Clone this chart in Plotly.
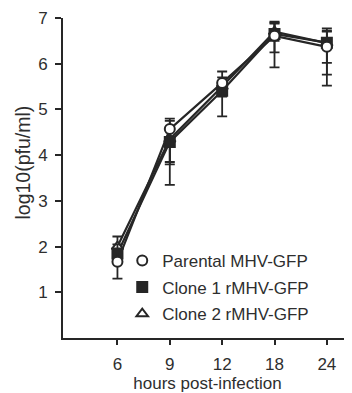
import plotly.graph_objects as go

hours = ["6", "9", "12", "18", "24"]
xpos = [0, 1, 2, 3, 4]

parental = [1.67, 4.57, 5.58, 6.61, 6.37]
parental_up = [0.20, 0.23, 0.25, 0.27, 0.35]
parental_dn = [0.37, 0.72, 0.30, 0.36, 0.85]

clone1 = [1.85, 4.29, 5.41, 6.65, 6.46]
clone1_up = [0.20, 0.30, 0.20, 0.27, 0.31]
clone1_dn = [0.20, 0.94, 0.56, 0.73, 0.44]

clone2 = [2.00, 4.35, 5.50, 6.70, 6.45]
clone2_up = [0.22, 0.40, 0.20, 0.20, 0.25]
clone2_dn = [0.22, 0.55, 0.20, 0.20, 0.69]

names = ["Parental MHV-GFP", "Clone 1 rMHV-GFP", "Clone 2 rMHV-GFP"]
ink = "#262626"

fig = go.Figure()

series = [
    (clone2, clone2_up, clone2_dn, names[2], "triangle-up", "white", 3),
    (clone1, clone1_up, clone1_dn, names[1], "square", ink, 2),
    (parental, parental_up, parental_dn, names[0], "circle", "white", 1),
]

# connecting lines (drawn underneath all markers)
for y, up, dn, name, symbol, fill, rank in series:
    fig.add_trace(go.Scatter(
        x=xpos, y=y, mode="lines", showlegend=False, hoverinfo="skip",
        line=dict(color=ink, width=2.2),
    ))

for y, up, dn, name, symbol, fill, rank in series:
    fig.add_trace(go.Scatter(
        x=xpos, y=y, name=name, mode="markers", legendrank=rank,
        legendgroup=name,
        marker=dict(symbol=symbol, size=10, color=fill,
                    line=dict(color=ink, width=2)),
        error_y=dict(type="data", symmetric=False, array=up, arrayminus=dn,
                     color=ink, thickness=1.8, width=5),
    ))

font = dict(family="Liberation Sans, Arial, sans-serif", size=17, color="#2e2e2e")

fig.update_layout(
    width=344, height=385,
    margin=dict(l=55, r=0, t=10, b=55),
    paper_bgcolor="white", plot_bgcolor="white",
    font=font,
    showlegend=True,
    legend=dict(traceorder="grouped", x=0.205, y=0.297,
                xanchor="left", yanchor="top", tracegroupgap=1.5,
                bgcolor="rgba(0,0,0,0)", font=font),
    xaxis=dict(
        range=[-1.04, 4.48], tickmode="array", tickvals=xpos, ticktext=hours,
        showline=True, linecolor=ink, linewidth=2, ticks="outside",
        ticklen=5, tickwidth=2, tickcolor=ink, showgrid=False, zeroline=False,
        ticklabelstandoff=5,
        title=dict(text="hours post-infection", font=font, standoff=3),
    ),
    yaxis=dict(
        range=[0, 7], tickvals=[1, 2, 3, 4, 5, 6, 7],
        showline=True, linecolor=ink, linewidth=2, ticks="outside",
        ticklen=6, tickwidth=1.5, tickcolor=ink, showgrid=False, zeroline=False,
        ticklabelstandoff=4,
    ),
    annotations=[dict(
        text="log10(pfu/ml)", textangle=-90, xref="paper", yref="paper",
        x=-0.14, y=0.547, xanchor="center", yanchor="middle",
        showarrow=False, font=dict(family=font["family"], size=19.5, color="#2e2e2e"),
    )],
)

fig.write_html("out.html")
